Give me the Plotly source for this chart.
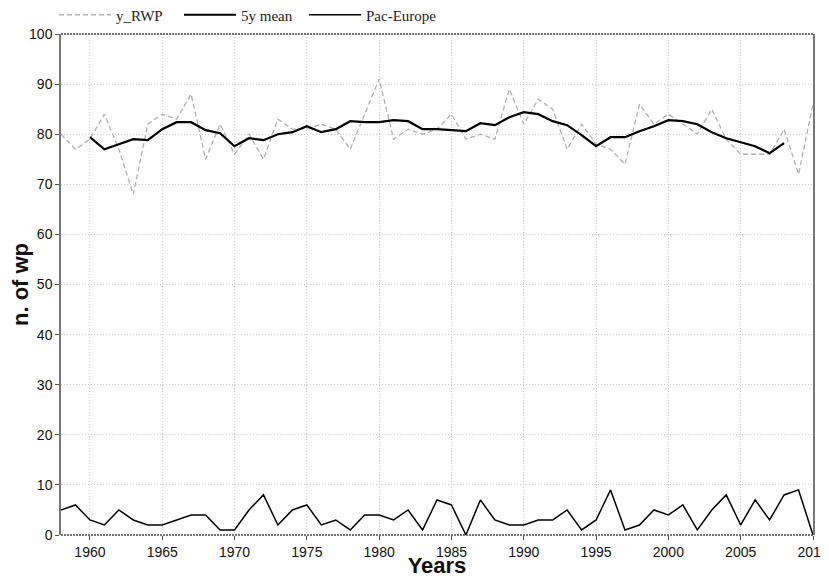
import plotly.graph_objects as go

years = list(range(1958, 2011))

y_rwp = [80, 77, 79, 84, 77, 68, 82, 84, 83, 88, 75, 82, 76, 80, 75, 83, 81, 81,
         82, 81, 77, 84, 91, 79, 81, 80, 81, 84, 79, 80, 79, 89, 82, 87, 85, 77,
         82, 78, 77, 74, 86, 82, 84, 82, 80, 85, 79, 76, 76, 76, 81, 72, 86]

mean_years = list(range(1960, 2009))
mean_5y = [79.4, 77.0, 78.0, 79.0, 78.8, 81.0, 82.4, 82.4, 80.8, 80.2, 77.6, 79.2,
           78.8, 80.0, 80.4, 81.6, 80.4, 81.0, 82.6, 82.4, 82.4, 82.8, 82.6, 81.0,
           81.0, 80.8, 80.6, 82.2, 81.8, 83.4, 84.4, 84.0, 82.6, 81.8, 79.8, 77.6,
           79.4, 79.4, 80.6, 81.6, 82.8, 82.6, 82.0, 80.4, 79.2, 78.4, 77.6, 76.2, 78.2]

pac_europe = [5, 6, 3, 2, 5, 3, 2, 2, 3, 4, 4, 1, 1, 5, 8, 2, 5, 6, 2, 3, 1, 4, 4,
              3, 5, 1, 7, 6, 0, 7, 3, 2, 2, 3, 3, 5, 1, 3, 9, 1, 2, 5, 4, 6, 1, 5,
              8, 2, 7, 3, 8, 9, 0]

x_ticks = [1960, 1965, 1970, 1975, 1980, 1985, 1990, 1995, 2000, 2005, 2010]
y_ticks = [0, 10, 20, 30, 40, 50, 60, 70, 80, 90, 100]

fig = go.Figure()
fig.add_trace(go.Scatter(x=years, y=y_rwp, mode="lines", name="y_RWP", legend="legend",
                         line=dict(color="#b0b0b0", width=1.3, dash="5px,3px")))
fig.add_trace(go.Scatter(x=mean_years, y=mean_5y, mode="lines", name="5y mean", legend="legend2",
                         line=dict(color="#000000", width=2.2)))
fig.add_trace(go.Scatter(x=years, y=pac_europe, mode="lines", name="Pac-Europe", legend="legend3",
                         line=dict(color="#000000", width=1.5)))

axis_font = dict(family="Liberation Sans, Arial, sans-serif", size=14, color="#111")
legend_font = dict(family="Liberation Serif, Times New Roman, serif", size=15, color="#222")

W, H = 821, 570


def make_legend(xpx):
    return dict(orientation="h", x=xpx / W, xref="container", xanchor="left",
                y=1 - 7 / H, yref="container", yanchor="middle",
                font=legend_font, bgcolor="rgba(0,0,0,0)", itemwidth=52)


fig.update_layout(
    width=W, height=H,
    margin=dict(l=53, r=16, t=26, b=43),
    paper_bgcolor="white", plot_bgcolor="white",
    showlegend=True,
    legend=make_legend(46),
    legend2=make_legend(171),
    legend3=make_legend(296),
    xaxis=dict(range=[1958, 2010], tickvals=x_ticks, ticktext=[str(v) for v in x_ticks],
               showgrid=True, gridcolor="#cfcfcf", griddash="1px,2px", gridwidth=1,
               zeroline=False, showline=False, ticks="outside", ticklen=4,
               tickcolor="#555", tickfont=axis_font, automargin=False,
               ticklabeloverflow="allow",
               title=dict(text="<b>Years</b>", standoff=1,
                          font=dict(family="Liberation Sans, Arial, sans-serif", size=22, color="#111"))),
    yaxis=dict(range=[0, 100], tickvals=y_ticks, showgrid=True, gridcolor="#cfcfcf",
               griddash="1px,2px", gridwidth=1, zeroline=False, showline=True,
               linecolor="#777", linewidth=1.5, mirror=True, ticks="outside", ticklen=4,
               tickcolor="#555", tickfont=axis_font, automargin=False,
               title=dict(text="<b>n. of wp</b>", standoff=8,
                          font=dict(family="Liberation Sans, Arial, sans-serif", size=22, color="#111"))),
    shapes=[
        dict(type="line", xref="paper", yref="paper", x0=0, x1=1, y0=1, y1=1,
             line=dict(color="#444", width=1.5, dash="2px,1px")),
        dict(type="line", xref="paper", yref="paper", x0=0, x1=1, y0=0, y1=0,
             line=dict(color="#444", width=1.5, dash="2px,1px")),
    ],
)

fig.write_html("out.html")
